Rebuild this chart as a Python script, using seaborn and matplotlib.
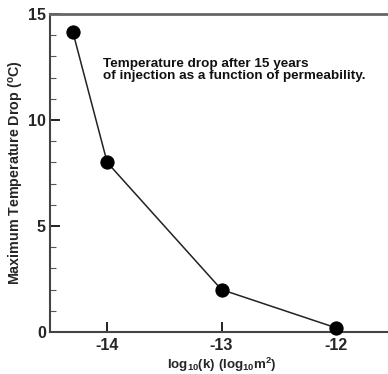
import matplotlib
matplotlib.use("Agg")
import matplotlib.pyplot as plt
from matplotlib.ticker import MultipleLocator
import seaborn as sns
import pandas as pd

# log10 permeability (m^2) and the resulting maximum temperature drop (deg C)
log_k = [-14.3, -14.0, -13.0, -12.0]
temp_drop = [14.15, 8.0, 2.0, 0.2]
x_ticks = [-14, -13, -12]
y_ticks = [0, 5, 10, 15]

df = pd.DataFrame({"log_k": log_k, "temp_drop": temp_drop})

sns.set_theme(style="ticks")
plt.rcParams["font.family"] = ["Liberation Sans", "DejaVu Sans"]
plt.rcParams["font.weight"] = "bold"
plt.rcParams["axes.unicode_minus"] = False
plt.rcParams["mathtext.fontset"] = "custom"
plt.rcParams["mathtext.rm"] = "Liberation Sans:bold"
plt.rcParams["mathtext.it"] = "Liberation Sans:bold"
plt.rcParams["mathtext.bf"] = "Liberation Sans:bold"

fig = plt.figure(figsize=(3.88, 3.74), dpi=100)
W, H = 388, 374
left, right, top, bottom = 50, 393, 14, 332
ax = fig.add_axes([left / W, 1 - bottom / H, (right - left) / W, (bottom - top) / H])

sns.lineplot(data=df, x="log_k", y="temp_drop", ax=ax, color="#222222",
             linewidth=1.1, marker="o", markersize=9.5,
             markerfacecolor="black", markeredgecolor="black", clip_on=False,
             zorder=5)

ax.set_xlim(-14.5, -11.5)
ax.set_ylim(0, 15)
ax.set_xticks(x_ticks)
ax.set_yticks(y_ticks)
ax.yaxis.set_minor_locator(MultipleLocator(1))
ax.tick_params(axis="both", which="major", direction="in", length=7, width=1.3,
               color="#111111", labelsize=11.5, pad=3,
               bottom=True, left=True, top=False, right=False)
ax.tick_params(axis="y", which="minor", direction="in", length=4, width=0.8,
               color="#555555", left=True, right=False)
ax.tick_params(axis="x", which="major", pad=4)
for lbl in ax.get_xticklabels() + ax.get_yticklabels():
    lbl.set_fontweight("bold")

for side in ["left", "bottom", "top", "right"]:
    ax.spines[side].set_visible(True)
    ax.spines[side].set_color("#444444")
    ax.spines[side].set_linewidth(1.5)
ax.spines["top"].set_color("#666666")
ax.spines["top"].set_linewidth(2)

ax.set_xlabel(r"log$_{10}$(k) (log$_{10}$m$^2$)", fontsize=9.6,
              fontweight="bold", labelpad=2)
ax.set_ylabel(r"Maximum Temperature Drop ($^{\rm o}$C)", fontsize=10.3,
              fontweight="bold", labelpad=1.5)

ax.text(-14.035, 12.38, "Temperature drop after 15 years\nof injection as a function of permeability.",
        fontsize=9.7, fontweight="bold", color="#111111", ha="left", va="center",
        linespacing=1.0)

fig.savefig("out.png", dpi=100)
